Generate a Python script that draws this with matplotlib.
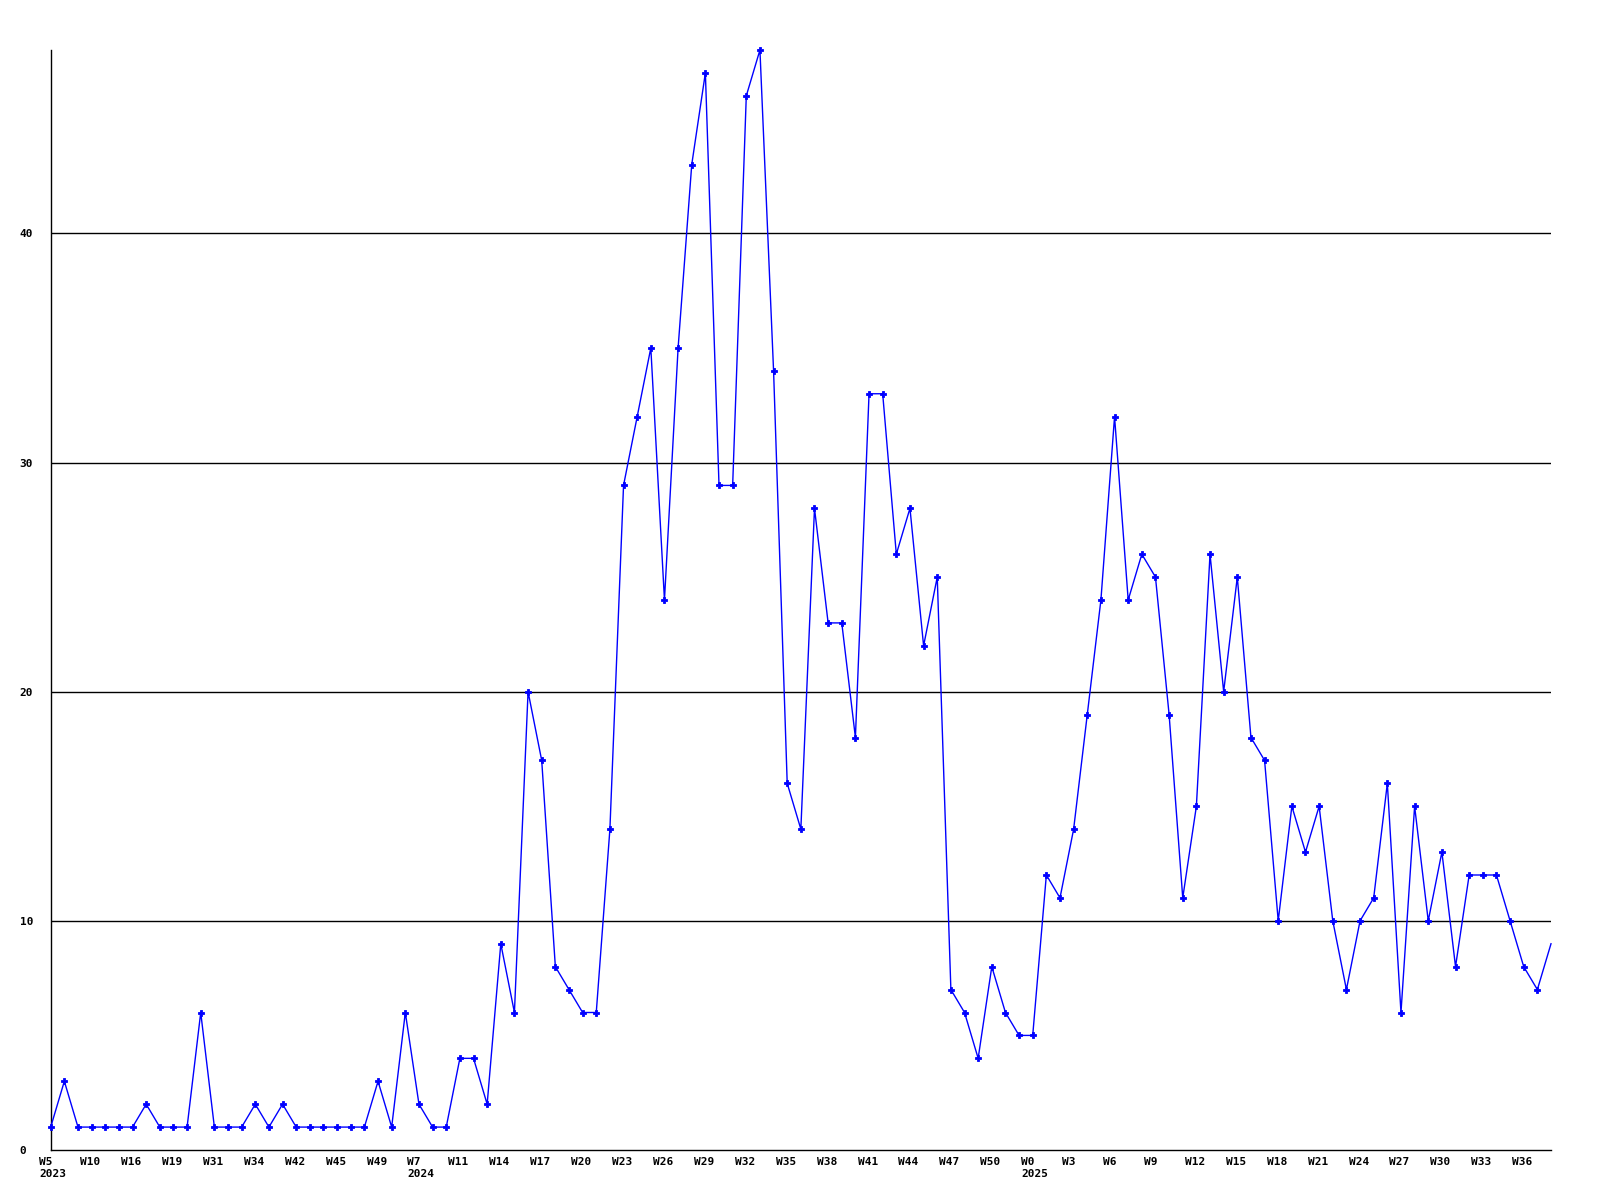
import matplotlib
matplotlib.use("Agg")
import matplotlib.pyplot as plt
from matplotlib.transforms import ScaledTranslation

# ---- data ----
values = [1, 3, 1, 1, 1, 1, 1, 2, 1, 1, 1, 6, 1, 1, 1, 2, 1, 2, 1, 1, 1, 1, 1, 1, 3, 1, 6,
          2, 1, 1, 4, 4, 2, 9, 6, 20, 17, 8, 7, 6, 6, 14, 29, 32, 35, 24, 35, 43, 47, 29, 29,
          46, 48, 34, 16, 14, 28, 23, 23, 18, 33, 33, 26, 28, 22, 25, 7, 6, 4, 8, 6, 5, 5,
          12, 11, 14, 19, 24, 32, 24, 26, 25, 19, 11, 15, 26, 20, 25, 18, 17, 10, 15, 13, 15,
          10, 7, 10, 11, 16, 6, 15, 10, 13, 8, 12, 12, 12, 10, 8, 7, 9]
week_labels = ["W5", "W10", "W16", "W19", "W31", "W34", "W42", "W45", "W49",
               "W7", "W11", "W14", "W17", "W20", "W23", "W26", "W29", "W32", "W35",
               "W38", "W41", "W44", "W47", "W50",
               "W0", "W3", "W6", "W9", "W12", "W15", "W18", "W21", "W24", "W27",
               "W30", "W33", "W36"]
year_labels = {0: "2023", 9: "2024", 24: "2025"}  # keyed by label slot
y_ticks = [0, 10, 20, 30, 40]

x = list(range(len(values)))
label_step = 3

fig = plt.figure(figsize=(16, 12), dpi=100)
ax = fig.add_axes([50.7 / 1600, 1 - 1150 / 1200, (1551 - 50.7) / 1600, 1100 / 1200])

ax.plot(x, values, color="#0000ff", linewidth=1.0, marker="P", markersize=4,
        markeredgewidth=0.6, markeredgecolor="#0000ff", markerfacecolor="#0000ff",
        markevery=slice(0, len(values) - 1), zorder=3, clip_on=False)

ax.set_xlim(0, len(values) - 1)
ax.set_ylim(0, 48)

for t in y_ticks[1:]:
    ax.axhline(t, color="black", linewidth=1.0, zorder=1)

for s in ["top", "right"]:
    ax.spines[s].set_visible(False)
for s in ["left", "bottom"]:
    ax.spines[s].set_color("black")
    ax.spines[s].set_linewidth(1.0)

font = dict(family="DejaVu Sans Mono", weight="bold", size=8)

# y ticks
ax.set_yticks(y_ticks)
ax.set_yticklabels([str(v) for v in y_ticks], **font)
ax.tick_params(axis="y", length=0, pad=22.3)
for lab in ax.get_yticklabels():
    lab.set_horizontalalignment("left")

# x ticks
pos = list(range(0, len(values), label_step))[:len(week_labels)]
texts = []
for i, w in enumerate(week_labels):
    texts.append(w + ("\n" + year_labels[i] if i in year_labels else ""))
ax.set_xticks(pos)
ax.set_xticklabels(texts, **font, linespacing=1.25)
ax.tick_params(axis="x", length=0, pad=5)
off = ScaledTranslation(-11.5 / 100, 0, fig.dpi_scale_trans)
for lab in ax.get_xticklabels():
    lab.set_horizontalalignment("left")
    lab.set_verticalalignment("top")
    lab.set_transform(lab.get_transform() + off)

fig.savefig("out.png", dpi=100, facecolor="white")
